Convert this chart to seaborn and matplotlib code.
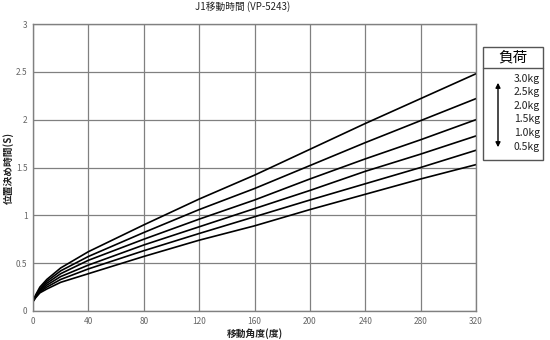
import numpy as np
import pandas as pd
import matplotlib
matplotlib.use("Agg")
import matplotlib.pyplot as plt
import seaborn as sns
from matplotlib.patches import Rectangle, FancyArrowPatch
from matplotlib.lines import Line2D

angles = [0, 2, 5, 10, 20, 40, 80, 120, 160, 200, 240, 280, 320]
t_30 = [0.10, 0.17, 0.25, 0.33, 0.45, 0.62, 0.90, 1.17, 1.42, 1.69, 1.96, 2.22, 2.48]
t_25 = [0.10, 0.16, 0.23, 0.31, 0.42, 0.57, 0.82, 1.06, 1.28, 1.52, 1.76, 1.99, 2.22]
t_20 = [0.10, 0.16, 0.22, 0.29, 0.39, 0.53, 0.75, 0.96, 1.16, 1.38, 1.59, 1.79, 2.00]
t_15 = [0.10, 0.15, 0.21, 0.27, 0.36, 0.48, 0.69, 0.88, 1.07, 1.26, 1.46, 1.64, 1.83]
t_10 = [0.10, 0.15, 0.20, 0.25, 0.33, 0.44, 0.63, 0.81, 0.985, 1.16, 1.33, 1.50, 1.68]
t_05 = [0.10, 0.14, 0.19, 0.23, 0.30, 0.39, 0.57, 0.74, 0.89, 1.06, 1.22, 1.38, 1.53]
loads = ["3.0kg", "2.5kg", "2.0kg", "1.5kg", "1.0kg", "0.5kg"]
series = [t_30, t_25, t_20, t_15, t_10, t_05]
x_ticks = [0, 40, 80, 120, 160, 200, 240, 280, 320]
y_ticks = [0, 0.5, 1, 1.5, 2, 2.5, 3]
y_tick_labels = ["0", "0.5", "1", "1.5", "2", "2.5", "3"]

title = "J1移動時間 (VP-5243)"
xlabel = "移動角度(度)"
ylabel = "位置決め時間(S)"
legend_title = "負荷"

sns.set_theme(style="white")
plt.rcParams['font.family'] = ['Noto Sans CJK JP', 'DejaVu Sans']

rows = []
for ld, s in zip(loads, series):
    for a, t in zip(angles, s):
        rows.append({"angle": a, "time": t, "load": ld})
df = pd.DataFrame(rows)

fig = plt.figure(figsize=(5.5, 3.4), dpi=100)
ax = fig.add_axes([33/550, 29/340, (476-33)/550, (311-24)/340])

sns.lineplot(data=df, x="angle", y="time", hue="load", hue_order=loads,
             palette=["black"]*len(loads), linewidth=1.2, legend=False, ax=ax)

ax.set_xlim(0, 320)
ax.set_ylim(0, 3)
ax.set_xticks(x_ticks)
ax.set_xticklabels([str(v) for v in x_ticks])
ax.set_yticks(y_ticks)
ax.set_yticklabels(y_tick_labels)
ax.tick_params(axis='both', length=0, labelsize=6, labelcolor="#666666", pad=4)
ax.grid(True, color="#808080", linewidth=0.9)
ax.set_axisbelow(True)
for sp in ax.spines.values():
    sp.set_color("#808080")
    sp.set_linewidth(1.0)
ax.set_xlabel(xlabel, fontsize=7, fontweight="bold", color="#222222", labelpad=2)
ax.set_ylabel(ylabel, fontsize=7, fontweight="bold", color="#222222")
ax.yaxis.set_label_coords(-0.043, 0.5)

fig.text(243/550, 1 - 7/340, title, ha="center", va="center", fontsize=7, color="#222222")

# legend box
bx0, by0, bx1, by1 = 483, 47, 543, 160
fig.patches.append(Rectangle((bx0/550, 1 - by1/340), (bx1-bx0)/550, (by1-by0)/340,
                             transform=fig.transFigure, fill=True, facecolor="white",
                             edgecolor="#555555", linewidth=1.0))
fig.lines.append(Line2D([bx0/550, bx1/550], [1 - 68/340, 1 - 68/340],
                        transform=fig.transFigure, color="#555555", linewidth=1.0))
fig.text(513/550, 1 - 57.5/340, legend_title, ha="center", va="center", fontsize=10.5, color="black")
for i, ld in enumerate(loads):
    fig.text(540/550, 1 - (79 + i*13.5)/340, ld, ha="right", va="center", fontsize=7.5, color="#222222")
fig.patches.append(FancyArrowPatch((498/550, 1 - 80/340), (498/550, 1 - 150/340),
                                   transform=fig.transFigure, arrowstyle="<|-|>",
                                   mutation_scale=7, color="black", linewidth=1.0))

fig.savefig("out.png", dpi=100)
